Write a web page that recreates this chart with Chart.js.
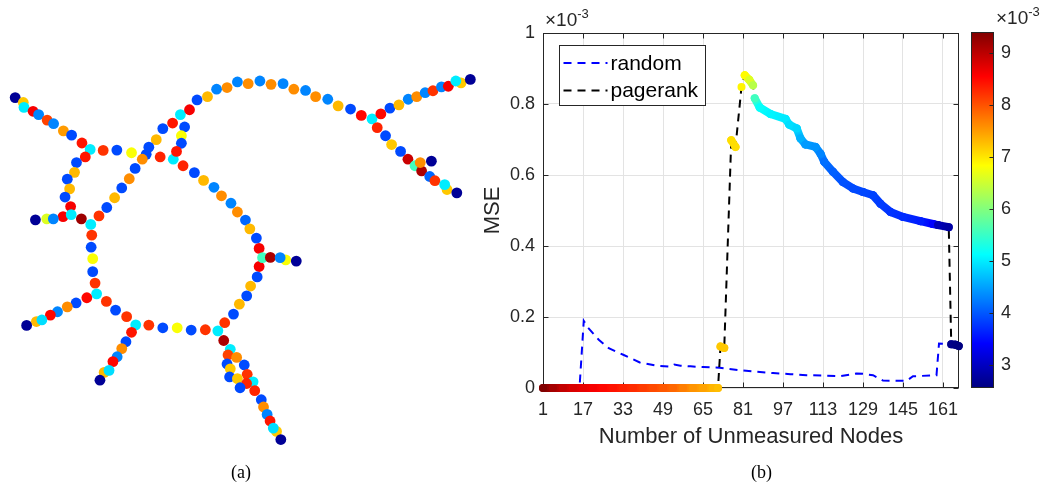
<!DOCTYPE html>
<html><head><meta charset="utf-8">
<script src="https://cdn.jsdelivr.net/npm/chart.js@4/dist/chart.umd.min.js"></script>
<style>
html,body{margin:0;padding:0;background:#fff;}
#wrap{position:relative;width:1053px;height:487px;overflow:hidden;font-family:"Liberation Sans",Arial,sans-serif;color:#262626;}
canvas{position:absolute;top:0;}
.lbl{position:absolute;white-space:nowrap;}
.sup{position:relative;top:-8px;font-size:13px;}
.cap{font-family:"Liberation Serif","Times New Roman",serif;font-size:18px;line-height:18px;color:#000;}
</style></head><body>
<div id="wrap">
<canvas id="netA" width="485" height="487" style="left:0"></canvas>
<canvas id="mseB" width="490" height="487" style="left:480px"></canvas>
<canvas id="cbar" width="88" height="487" style="left:965px"></canvas>
<div class="lbl" style="left:545px;top:10px;font-size:19px;line-height:19px">×10<span class="sup">-3</span></div>
<div class="lbl" style="left:996px;top:8px;font-size:19px;line-height:19px">×10<span class="sup">-3</span></div>
<div class="lbl cap" style="left:231px;top:463px">(a)</div>
<div class="lbl cap" style="left:751px;top:463px">(b)</div>
</div>
<script>
// ---- colour scale (x10^-3) ----
const cMin = 2.55, cMax = 9.4;
const cbTicks = [3, 4, 5, 6, 7, 8, 9];

// ---- panel (b) axes ----
const xTicks = [1, 17, 33, 49, 65, 81, 97, 113, 129, 145, 161];
const yTicks = [0, 0.2, 0.4, 0.6, 0.8, 1];
const xMin = 1, xMax = 167.4, yMin = 0, yMax = 1;

// ---- random (MSE x10^-3) ----
const randomX = [1, 15.6, 17.3, 19, 23.3, 27.3, 33.3, 39.7, 46.4, 52, 53.5, 56, 60, 65, 71.7, 79.7, 86, 93, 100, 106.4, 113, 119.7, 126.4, 129, 133, 137, 146.4, 149, 158.4, 159.4, 167.4];
const randomY = [0, 0, 0.189, 0.17, 0.136, 0.112, 0.093, 0.072, 0.063, 0.06, 0.066, 0.063, 0.061, 0.059, 0.057, 0.05, 0.046, 0.042, 0.039, 0.036, 0.035, 0.033, 0.041, 0.04, 0.036, 0.021, 0.02, 0.033, 0.036, 0.125, 0.122];

// ---- pagerank (MSE x10^-3) and colour value (x10^-3) ----
const prX = [1, 5, 9, 13, 17, 21, 25, 29, 33, 37, 41, 45, 49, 53, 57, 61, 65, 69, 71,
  72, 73.5, 76.3, 78, 80.4, 81.7, 83.5, 85,
  85.7, 87.7, 92, 98, 99.5, 102.5, 104, 106, 110, 112, 113.5, 117, 121, 125, 129, 133, 136, 140, 145, 152, 157, 159, 163.3,
  164.3, 166, 167.3];
const prY = [0, 0, 0, 0, 0, 0, 0, 0, 0, 0, 0, 0, 0, 0, 0, 0, 0, 0, 0,
  0.117, 0.113, 0.698, 0.679, 0.848, 0.881, 0.868, 0.853,
  0.816, 0.79, 0.772, 0.758, 0.742, 0.731, 0.703, 0.686, 0.679, 0.66, 0.637, 0.609, 0.58, 0.562, 0.552, 0.543, 0.519, 0.496, 0.482, 0.47, 0.462, 0.459, 0.453,
  0.123, 0.122, 0.118];
const prC = [9.4, 9.15, 8.95, 8.8, 8.7, 8.6, 8.5, 8.42, 8.33, 8.25, 8.15, 8.05, 7.95, 7.85, 7.7, 7.55, 7.45, 7.32, 7.27,
  7.2, 7.2, 7.05, 7.05, 6.9, 6.85, 6.6, 6.35,
  5.55, 5.15, 5.05, 4.98, 4.9, 4.85, 4.6, 4.45, 4.4, 4.3, 4.15, 4.05, 3.95, 3.9, 3.88, 3.85, 3.8, 3.75, 3.7, 3.6, 3.4, 2.9, 2.8,
  2.62, 2.58, 2.56];

// ---- panel (a) network nodes: layout position and colour value (x10^-3) ----
const netX = [10, 18.3, 19, 28.3, 34, 42.7, 49.3, 59.3, 67.7, 78.3, 86.7,
  100, 114, 129, 144, 158.3, 171.7,
  179, 171, 161, 154.3, 146.7, 140, 132.7, 126.7, 119, 111.7, 103.7, 95.7,
  81.7, 72.7, 70.7, 63.3, 65.7, 61, 66.7, 59, 30.7, 42.3, 49, 67.3, 77.7, 87.3, 88.3, 87.7, 89.3, 89.3, 91.7, 93.3,
  183.3, 180, 180, 175,
  188.3, 196, 206.7, 216, 226.7, 237.3, 248.3, 260.3, 271.7, 284, 295, 307, 317.3, 329.7, 340.3, 353, 364, 375, 384, 393.3, 402.5, 412, 420.7, 429.3, 437.3, 446, 453, 466, 460.7, 475.5,
  380.3, 388.8, 395, 404.2, 411.7, 419, 435.7, 425.7, 424.3, 434, 439.3, 451.7, 449.3, 461.7,
  181.7, 193.3, 202.7, 213.3, 221, 230.7, 237.3, 245.5, 250, 256.7, 259.5, 259.5, 263, 271, 286.7, 281, 297.5, 257.5, 250.8, 246.8, 239.3, 233.3, 224.3, 217.3,
  204.5, 190, 175.7, 161, 146.7, 133.3,
  83.3, 72.3, 63.3, 53.3, 46, 31.7, 37.3, 21.7, 103.3, 112.7, 124, 129, 123.3, 119, 114.3, 110, 101, 106, 96.7,
  223.3, 230, 227.7, 236.5, 226.7, 244.3, 230, 247.3, 229.3, 237.3, 253.3, 246.7, 240, 255, 261.7, 264, 267.7, 270.7, 277.3, 274, 281.7];
const netY = [94.3, 99.3, 104.3, 108.3, 111.7, 117.3, 121, 128.3, 132.7, 140.7, 147.3,
  148.3, 148, 150.7, 152.3, 155, 157.3,
  111.7, 120.3, 126, 137.3, 145, 157.3, 166.7, 177.3, 186.7, 196.7, 206.7, 215.3,
  155, 160.7, 170.7, 177.7, 187.7, 196, 205.7, 216, 219.3, 218.3, 218.3, 214, 218.3, 224, 235, 247.3, 259, 272.3, 284, 295,
  124.3, 133.3, 141, 149.3,
  106.7, 96.7, 93.3, 85.7, 84, 78.3, 80, 77.3, 80.7, 80, 85.7, 87, 93.3, 96, 102.7, 106, 112.5, 116, 111, 105, 101.7, 96, 93.3, 89.3, 87.3, 83.3, 82.7, 79.3, 77.3, 75.7,
  125, 133.3, 142.3, 149.3, 157.3, 164, 159.3, 169.3, 160.7, 175, 179.3, 188.3, 183.3, 191.7,
  164, 171, 179, 186, 194.7, 202.3, 211.3, 219.5, 228.5, 238, 248.5, 267, 258, 257.7, 260.3, 258, 261.5, 277.7, 287, 297, 305.5, 315.7, 324.5, 332.8,
  331.7, 332, 329.7, 329.7, 327, 326.7,
  299, 304.3, 308.3, 313.3, 316.7, 323.3, 321.7, 327.3, 302.7, 311.7, 318.3, 334.3, 344, 351, 359.3, 364.3, 375.3, 373.3, 383.3,
  342.7, 351.7, 357.5, 360, 366.7, 367.7, 371.7, 377.3, 380, 381.7, 385, 386.7, 391, 394, 403.3, 410.7, 418.3, 425, 435.7, 432.3, 444];
const netC = [2.7, 7.2, 5.0, 8.6, 4.3, 8.1, 4.3, 7.5, 3.9, 8.4, 5.0,
  8.2, 3.9, 6.8, 3.9, 8.3, 5.0,
  5.0, 8.4, 3.9, 7.3, 3.9, 7.6, 3.9, 7.6, 3.9, 7.3, 3.9, 8.2,
  8.4, 3.9, 7.3, 3.9, 7.3, 3.9, 8.6, 8.6, 2.7, 6.6, 4.3, 5.0, 9.2, 5.0, 8.2, 3.9, 6.8, 3.9, 8.2, 5.0,
  3.9, 6.8, 3.9, 8.4,
  8.6, 3.9, 7.3, 4.3, 7.6, 4.3, 7.6, 4.3, 7.6, 4.3, 7.6, 4.3, 7.6, 4.3, 7.3, 3.9, 8.5, 5.0, 8.5, 3.9, 7.3, 4.3, 7.6, 4.3, 8.2, 4.3, 8.6, 7.2, 5.0, 2.7,
  8.3, 3.9, 7.2, 3.9, 8.9, 5.55, 2.7, 9.1, 7.6, 4.1, 8.2, 7.2, 5.0, 2.7,
  8.3, 3.9, 7.3, 4.3, 7.6, 4.3, 7.6, 4.1, 7.3, 3.9, 8.6, 8.6, 5.55, 9.1, 6.8, 4.3, 2.7, 3.9, 7.3, 3.9, 7.3, 3.9, 8.2, 5.0,
  8.2, 3.9, 6.8, 3.9, 8.2, 5.0,
  8.5, 3.9, 7.6, 4.3, 8.5, 7.3, 4.9, 2.7, 8.2, 3.9, 8.2, 8.4, 3.9, 7.6, 4.3, 8.5, 7.3, 4.9, 2.7,
  9.1, 5.0, 8.1, 7.6, 3.9, 3.9, 7.2, 8.2, 3.9, 7.2, 5.0, 8.3, 3.9, 8.3, 3.9, 7.6, 4.3, 8.4, 7.2, 4.9, 2.7];

// ---- jet colormap ----
function jet(v) {
  let t = (v - cMin) / (cMax - cMin);
  t = Math.max(0, Math.min(1, t));
  const f = x => Math.round(255 * Math.max(0, Math.min(1, x)));
  return 'rgb(' + f(1.5 - Math.abs(4 * t - 3)) + ',' + f(1.5 - Math.abs(4 * t - 2)) + ',' + f(1.5 - Math.abs(4 * t - 1)) + ')';
}

const FONT = '"Liberation Sans", Arial, sans-serif';
const AX = '#262626';
Chart.defaults.font.family = FONT;
Chart.defaults.color = AX;

const common = {
  responsive: false, animation: false, events: [], devicePixelRatio: 1,
  plugins: { legend: { display: false }, tooltip: { enabled: false } }
};

// ---- panel (a) ----
new Chart(document.getElementById('netA'), {
  type: 'scatter',
  data: { datasets: [{
    data: netX.map((x, i) => ({ x: x, y: netY[i] })),
    pointRadius: 5.4, pointBorderWidth: 0,
    pointBackgroundColor: c => jet(netC[c.dataIndex]),
    clip: false
  }] },
  options: Object.assign({}, common, {
    layout: { padding: 0 },
    scales: {
      x: { type: 'linear', min: 0, max: 485, display: false },
      y: { type: 'linear', min: 0, max: 487, reverse: true, display: false }
    }
  })
});

// ---- panel (b) ----
const boxTicks = {
  id: 'boxTicks',
  beforeDatasetsDraw(chart) {
    const { ctx, chartArea: a, scales } = chart;
    ctx.save();
    ctx.strokeStyle = AX; ctx.lineWidth = 1;
    const L = Math.round(a.left) + 0.5, R = Math.round(a.right) - 0.5, T = Math.round(a.top) + 0.5, B = Math.round(a.bottom) - 0.5;
    ctx.strokeRect(L, T, R - L, B - T);
    ctx.beginPath();
    xTicks.forEach(v => {
      const px = Math.round(scales.x.getPixelForValue(v)) + 0.5;
      ctx.moveTo(px, B); ctx.lineTo(px, B - 5);
      ctx.moveTo(px, T); ctx.lineTo(px, T + 5);
    });
    yTicks.forEach(v => {
      const py = Math.round(scales.y.getPixelForValue(v)) + 0.5;
      ctx.moveTo(L, py); ctx.lineTo(L + 5, py);
      ctx.moveTo(R, py); ctx.lineTo(R - 5, py);
    });
    ctx.stroke();
    ctx.restore();
  }
};
const legendBox = {
  id: 'legendBox',
  afterDraw(chart) {
    const { ctx, chartArea: a } = chart;
    const items = chart.data.datasets.filter(d => d.label);
    const x0 = Math.round(a.left) + 16.5, y0 = Math.round(a.top) + 12.5, w = 146, h = 60;
    ctx.save();
    ctx.fillStyle = '#fff'; ctx.fillRect(x0, y0, w, h);
    ctx.strokeStyle = AX; ctx.lineWidth = 1; ctx.strokeRect(x0, y0, w, h);
    ctx.font = '21px ' + FONT; ctx.textBaseline = 'middle';
    items.forEach((d, i) => {
      const y = y0 + 17.5 + i * 27.5;
      ctx.strokeStyle = d.borderColor; ctx.lineWidth = d.borderWidth; ctx.setLineDash(d.borderDash || []);
      ctx.beginPath(); ctx.moveTo(x0 + 4, y); ctx.lineTo(x0 + 48, y); ctx.stroke();
      ctx.setLineDash([]);
      ctx.fillStyle = '#000'; ctx.fillText(d.label, x0 + 51, y + 1);
    });
    ctx.restore();
  }
};

const prData = prX.map((x, i) => ({ x: x, y: prY[i] }));
new Chart(document.getElementById('mseB'), {
  type: 'scatter',
  data: { datasets: [
    { label: 'random', data: randomX.map((x, i) => ({ x: x, y: randomY[i] })), showLine: true,
      borderColor: '#0000ff', borderWidth: 2, borderDash: [8, 6], pointRadius: 0, order: 3, clip: false },
    { label: 'pagerank', data: prData, showLine: true,
      borderColor: '#000000', borderWidth: 2, borderDash: [8, 6], pointRadius: 0, order: 2, clip: false },
    { data: prData, showLine: true, borderWidth: 8, borderCapStyle: 'round', borderJoinStyle: 'round',
      borderColor: 'rgba(0,0,0,0)',
      segment: {
        borderColor: s => {
          if (Math.abs(s.p1.y - s.p0.y) > 11) return 'rgba(0,0,0,0)';
          const g = s.chart.ctx.createLinearGradient(s.p0.x, s.p0.y, s.p1.x + 0.01, s.p1.y);
          g.addColorStop(0, jet(prC[s.p0DataIndex]));
          g.addColorStop(1, jet(prC[s.p1DataIndex]));
          return g;
        }
      },
      pointRadius: 4, pointBorderWidth: 0,
      pointBackgroundColor: c => jet(prC[c.dataIndex]),
      order: 1, clip: false }
  ] },
  options: Object.assign({}, common, {
    layout: { padding: { top: 33, right: 11, left: 0, bottom: 0 } },
    scales: {
      x: { type: 'linear', min: xMin, max: xMax,
        afterBuildTicks: s => { s.ticks = xTicks.map(v => ({ value: v })); },
        afterFit: s => { s.height = 99; },
        grid: { color: '#e3e3e3', drawTicks: false },
        border: { display: false },
        ticks: { padding: 11, font: { size: 18 }, color: AX, maxRotation: 0, autoSkip: false, callback: v => String(v) },
        title: { display: true, text: 'Number of Unmeasured Nodes', font: { size: 22 }, color: AX, padding: { top: 0, bottom: 37 } }
      },
      y: { type: 'linear', min: yMin, max: yMax,
        afterBuildTicks: s => { s.ticks = yTicks.map(v => ({ value: v })); },
        afterFit: s => { s.width = 63; },
        grid: { color: '#e3e3e3', drawTicks: false },
        border: { display: false },
        ticks: { padding: 8, font: { size: 18 }, color: AX, callback: v => String(v) },
        title: { display: true, text: 'MSE', font: { size: 22 }, color: AX, padding: { top: 0, bottom: 0 } }
      }
    }
  }),
  plugins: [boxTicks, legendBox]
});

// ---- colour bar ----
const cbFrame = {
  id: 'cbFrame',
  afterDraw(chart) {
    const { ctx, chartArea: a, scales } = chart;
    ctx.save();
    ctx.strokeStyle = AX; ctx.lineWidth = 1;
    const L = Math.round(a.left) + 0.5, R = Math.round(a.right) - 0.5, T = Math.round(a.top) + 0.5, B = Math.round(a.bottom) - 0.5;
    ctx.strokeRect(L, T, R - L, B - T);
    ctx.beginPath();
    cbTicks.forEach(v => {
      const py = Math.round(scales.y.getPixelForValue(v)) + 0.5;
      ctx.moveTo(R, py); ctx.lineTo(R - 4, py);
    });
    ctx.stroke();
    ctx.restore();
  }
};
new Chart(document.getElementById('cbar'), {
  type: 'bar',
  data: { labels: [''], datasets: [{
    data: [[cMin, cMax]], borderWidth: 0, barPercentage: 1, categoryPercentage: 1,
    backgroundColor: c => {
      const a = c.chart.chartArea;
      if (!a) return 'rgba(0,0,0,0)';
      const g = c.chart.ctx.createLinearGradient(0, a.bottom, 0, a.top);
      for (let k = 0; k <= 64; k++) g.addColorStop(k / 64, jet(cMin + (cMax - cMin) * k / 64));
      return g;
    }
  }] },
  options: Object.assign({}, common, {
    layout: { padding: { top: 32, bottom: 99, left: 6, right: 0 } },
    scales: {
      x: { display: false },
      y: { position: 'right', min: cMin, max: cMax,
        afterBuildTicks: s => { s.ticks = cbTicks.map(v => ({ value: v })); },
        afterFit: s => { s.width = 59; },
        grid: { display: false, drawTicks: false },
        border: { display: false },
        ticks: { padding: 7, font: { size: 18 }, color: AX }
      }
    }
  }),
  plugins: [cbFrame]
});
</script>
</body></html>
